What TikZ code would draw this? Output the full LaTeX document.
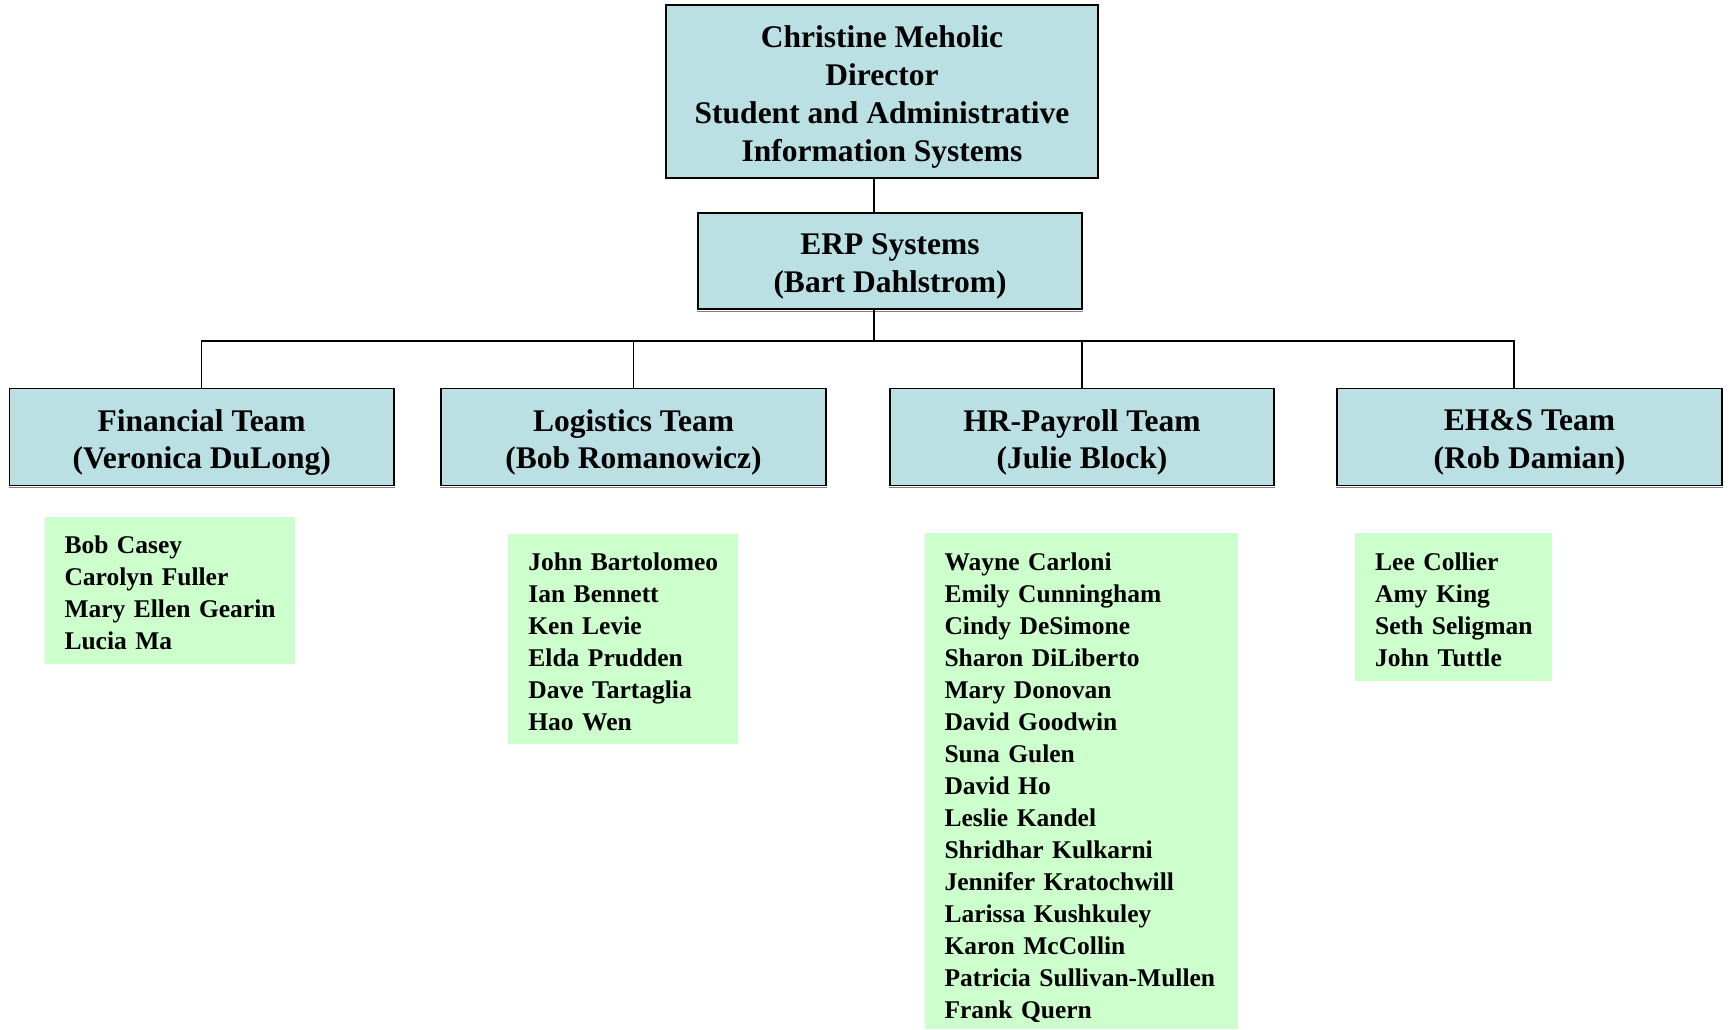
\documentclass[tikz,border=0pt]{standalone}
\usepackage{fontspec}
\setmainfont{Liberation Serif}
\definecolor{boxblue}{RGB}{186,224,227}
\definecolor{listgreen}{RGB}{204,255,204}
\begin{document}
\begin{tikzpicture}[x=1pt,y=-1pt,
  box/.style={draw=black, line width=1.7pt, fill=boxblue, inner sep=0pt},
  boxtext/.style={inner sep=0pt, align=center, yshift=-5.5pt,
    font=\fontsize{31.5}{37.5}\selectfont\bfseries},
  toptext/.style={boxtext, font=\fontsize{31.5}{38.3}\selectfont\bfseries},
  teambox/.style={box, minimum width=384.5pt, minimum height=97pt},
  shadowline/.style={draw=gray, line width=1pt},
  listbg/.style={fill=listgreen},
  listtext/.style={anchor=base west, inner sep=0pt, text width=320pt, align=left,
    font=\fontsize{25.5}{32}\selectfont\bfseries},
  conn/.style={line width=1.3pt}]
\useasboundingbox (0,0) rectangle (1729,1029);

% boxes
\node[box, minimum width=432pt, minimum height=173pt,
  label={[toptext]center:{Christine Meholic\\Director\\Student and Administrative\\Information Systems}}]
  (dir) at (882,91.5) {};
\node[box, minimum width=384pt, minimum height=96pt,
  label={[boxtext]center:{ERP Systems\\(Bart Dahlstrom)}}] (erp) at (890,261) {};
\node[teambox, label={[boxtext]center:{Financial Team\\(Veronica DuLong)}}] (fin) at (201.7,437) {};
\node[teambox, label={[boxtext]center:{Logistics Team\\(Bob Romanowicz)}}] (log) at (633.5,437) {};
\node[teambox, label={[boxtext]center:{HR-Payroll Team\\(Julie Block)}}] (hr) at (1082,437) {};
\node[teambox, label={[boxtext]center:{EH\&S Team\\(Rob Damian)}}] (eh) at (1529.5,437) {};

\foreach \n in {erp,fin,log,hr,eh}
  \draw[shadowline] ([yshift=-1.6pt]\n.south west) -- ([yshift=-1.6pt]\n.south east);

% connectors
\coordinate (bus) at (874,341);
\draw[conn] (dir.south -| bus) -- (erp.north -| bus);
\draw[conn] (erp.south -| bus) -- (bus);
\draw[conn] (fin.north) |- (bus) -| ([xshift=-15.5pt]eh.north);
\draw[conn] (log.north) -- (log.north |- bus);
\draw[conn] (hr.north) -- (hr.north |- bus);

% member lists
\fill[listbg] (45,517.3) rectangle (295,664.3);
\node[listtext] (finl) at (64.3,553.3)
  {Bob Casey\\Carolyn Fuller\\Mary Ellen Gearin\\Lucia Ma};

\fill[listbg] (508.3,534) rectangle (737.7,744.3);
\node[listtext] (logl) at (528.2,570)
  {John Bartolomeo\\Ian Bennett\\Ken Levie\\Elda Prudden\\Dave Tartaglia\\Hao Wen};

\fill[listbg] (925,533.3) rectangle (1237.7,1029);
\node[listtext] (hrl) at (944.3,570.7)
  {Wayne Carloni\\Emily Cunningham\\Cindy DeSimone\\Sharon DiLiberto\\Mary Donovan\\David Goodwin\\Suna Gulen\\David Ho\\Leslie Kandel\\Shridhar Kulkarni\\Jennifer Kratochwill\\Larissa Kushkuley\\Karon McCollin\\Patricia Sullivan-Mullen\\Frank Quern};

\fill[listbg] (1355,533.3) rectangle (1551.7,680.7);
\node[listtext] (ehl) at (1375,570)
  {Lee Collier\\Amy King\\Seth Seligman\\John Tuttle};
\end{tikzpicture}
\end{document}
